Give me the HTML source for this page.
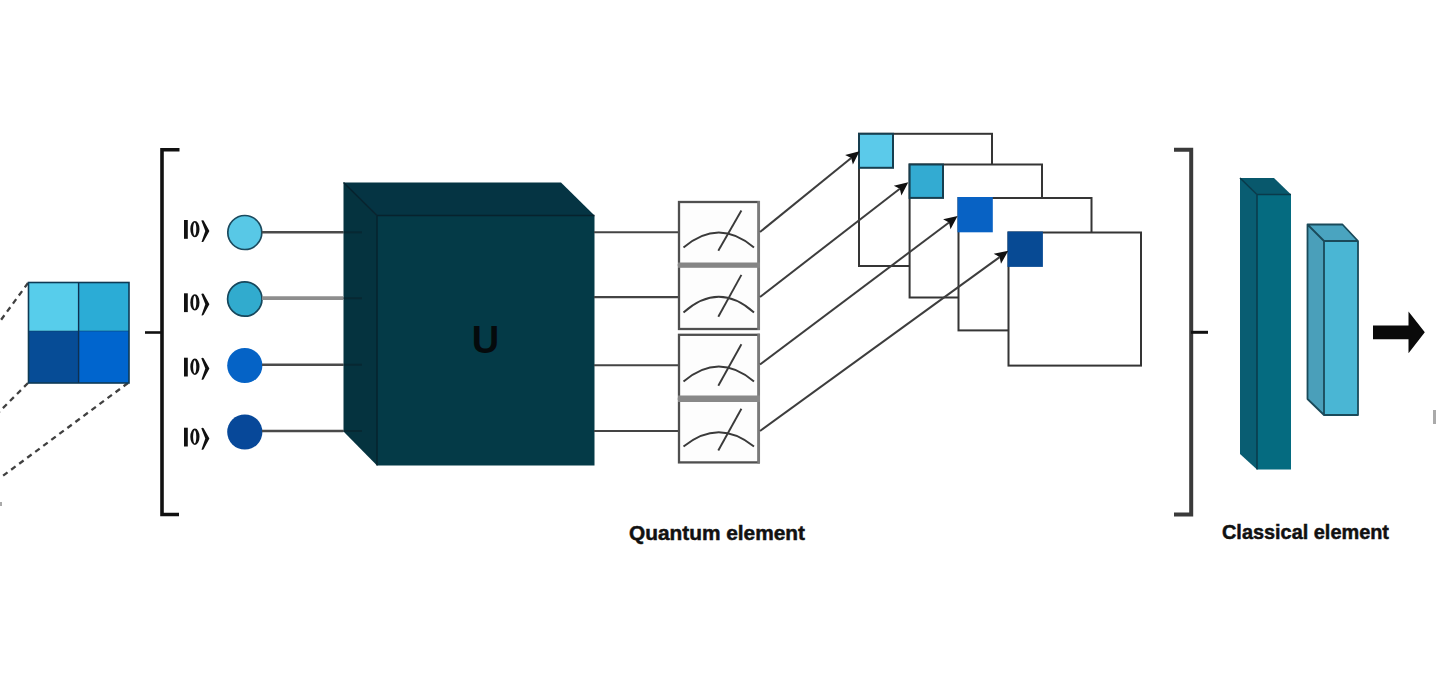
<!DOCTYPE html>
<html><head><meta charset="utf-8"><style>
html,body{margin:0;padding:0;background:#fff;}
body{width:1436px;height:700px;overflow:hidden;font-family:"Liberation Sans",sans-serif;}
svg{display:block;}
</style></head><body>
<svg width="1436" height="700" viewBox="0 0 1436 700">
<rect width="1436" height="700" fill="#fff"/>
<g stroke="#404040" stroke-width="2.3" stroke-dasharray="5.5 4.5" fill="none">
<line x1="28" y1="283" x2="-2" y2="324"/>
<line x1="28" y1="383" x2="-2" y2="413"/>
<line x1="128" y1="383" x2="2" y2="476.5"/>
</g>
<rect x="0" y="502" width="2" height="4" fill="#aaa"/>
<rect x="28.5" y="282.5" width="50.099999999999994" height="48.5" fill="#57CDEB"/>
<rect x="78.6" y="282.5" width="50.400000000000006" height="48.5" fill="#2BACD6"/>
<rect x="28.5" y="331" width="50.099999999999994" height="52" fill="#064C96"/>
<rect x="78.6" y="331" width="50.400000000000006" height="52" fill="#0065CE"/>
<rect x="28.5" y="282.5" width="100.5" height="100.5" fill="none" stroke="#0E3A55" stroke-width="1.6"/>
<line x1="78.6" y1="282.5" x2="78.6" y2="383" stroke="#0E3050" stroke-width="1.4"/>
<line x1="28.5" y1="331" x2="129" y2="331" stroke="#0E3A55" stroke-width="0.8" opacity="0.6"/>
<path d="M179.5,149.8 H162 V514.5 H179" fill="none" stroke="#111" stroke-width="3.6"/>
<line x1="145" y1="332.5" x2="162" y2="332.5" stroke="#111" stroke-width="2.6"/>
<path d="M1174,149.8 H1191.2 V514.5 H1174" fill="none" stroke="#3a3a3a" stroke-width="4"/>
<line x1="1191" y1="332.3" x2="1208" y2="332.3" stroke="#111" stroke-width="3"/>
<circle cx="244.8" cy="232.5" r="17" fill="#58C8E6" stroke="#1B4A5E" stroke-width="1.7"/>
<circle cx="244.8" cy="299" r="17.2" fill="#31ABCE" stroke="#17475C" stroke-width="1.7"/>
<circle cx="244.8" cy="365.5" r="17.6" fill="#0563C6" stroke="#0563C6" stroke-width="0"/>
<circle cx="244.8" cy="432" r="17.6" fill="#074899" stroke="#074899" stroke-width="0"/>
<rect x="184" y="220" width="3.8" height="18.8" fill="#111"/>
<path fill-rule="evenodd" fill="#111" d="M194.9,220.9 A4.6,8.2 0 1,0 194.9,237.3 A4.6,8.2 0 1,0 194.9,220.9 Z M194.7,222.5 A1.6,6.6 0 1,1 194.7,235.7 A1.6,6.6 0 1,1 194.7,222.5 Z"/>
<path d="M201.3,220.6 Q202.5,219.8 203.6,220.5 L209.4,230.9 L203.6,241.5 Q202.5,242.4 201.5,241.9 L205.3,230.9 Z" fill="#111"/>
<rect x="184" y="293.3" width="3.8" height="18.8" fill="#111"/>
<path fill-rule="evenodd" fill="#111" d="M194.9,294.2 A4.6,8.2 0 1,0 194.9,310.6 A4.6,8.2 0 1,0 194.9,294.2 Z M194.7,295.8 A1.6,6.6 0 1,1 194.7,309.0 A1.6,6.6 0 1,1 194.7,295.8 Z"/>
<path d="M201.3,293.90000000000003 Q202.5,293.1 203.6,293.8 L209.4,304.2 L203.6,314.8 Q202.5,315.7 201.5,315.2 L205.3,304.2 Z" fill="#111"/>
<rect x="184" y="357.7" width="3.8" height="18.8" fill="#111"/>
<path fill-rule="evenodd" fill="#111" d="M194.9,358.59999999999997 A4.6,8.2 0 1,0 194.9,375.0 A4.6,8.2 0 1,0 194.9,358.59999999999997 Z M194.7,360.2 A1.6,6.6 0 1,1 194.7,373.4 A1.6,6.6 0 1,1 194.7,360.2 Z"/>
<path d="M201.3,358.3 Q202.5,357.5 203.6,358.2 L209.4,368.59999999999997 L203.6,379.2 Q202.5,380.09999999999997 201.5,379.59999999999997 L205.3,368.59999999999997 Z" fill="#111"/>
<rect x="184" y="427.7" width="3.8" height="18.8" fill="#111"/>
<path fill-rule="evenodd" fill="#111" d="M194.9,428.59999999999997 A4.6,8.2 0 1,0 194.9,445.0 A4.6,8.2 0 1,0 194.9,428.59999999999997 Z M194.7,430.2 A1.6,6.6 0 1,1 194.7,443.4 A1.6,6.6 0 1,1 194.7,430.2 Z"/>
<path d="M201.3,428.3 Q202.5,427.5 203.6,428.2 L209.4,438.59999999999997 L203.6,449.2 Q202.5,450.09999999999997 201.5,449.59999999999997 L205.3,438.59999999999997 Z" fill="#111"/>
<polygon points="343.5,182.5 561,182.5 594.5,215.5 377,215.5" fill="#053443"/>
<polygon points="343.5,182.5 377,215.5 377,465.5 343.5,431.5" fill="#05333F"/>
<rect x="377" y="215.5" width="217.5" height="250" fill="#043A47"/>
<g stroke="#07222D" stroke-width="1.4" fill="none"><path d="M343.5,182.5 L377,215.5 L594.5,215.5 M377,215.5 V465.5"/></g>
<line x1="262" y1="232.3" x2="343.5" y2="232.3" stroke="#4a4a4a" stroke-width="2.4"/>
<line x1="262" y1="298.2" x2="343.5" y2="298.2" stroke="#8e8e8e" stroke-width="3.8"/>
<line x1="262" y1="364.8" x2="343.5" y2="364.8" stroke="#4a4a4a" stroke-width="2.4"/>
<line x1="262" y1="431" x2="343.5" y2="431" stroke="#4a4a4a" stroke-width="2.4"/>
<line x1="343.5" y1="232.3" x2="362" y2="232.3" stroke="#082630" stroke-width="2" opacity="0.8"/>
<line x1="343.5" y1="298.2" x2="362" y2="298.2" stroke="#082630" stroke-width="2" opacity="0.8"/>
<line x1="343.5" y1="364.8" x2="362" y2="364.8" stroke="#082630" stroke-width="2" opacity="0.8"/>
<line x1="343.5" y1="431" x2="362" y2="431" stroke="#082630" stroke-width="2" opacity="0.8"/>
<text x="485.6" y="353" font-family="Liberation Sans" font-weight="bold" font-size="38" text-anchor="middle" fill="#050a0c">U</text>
<line x1="594" y1="232.2" x2="679" y2="232.2" stroke="#444" stroke-width="2.1"/>
<line x1="594" y1="297.1" x2="679" y2="297.1" stroke="#444" stroke-width="2.1"/>
<line x1="594" y1="365.2" x2="679" y2="365.2" stroke="#444" stroke-width="2.1"/>
<line x1="594" y1="431" x2="679" y2="431" stroke="#444" stroke-width="2.1"/>
<rect x="679" y="202" width="79.7" height="63.10000000000002" fill="#fdfdfd" stroke="#4f4f4f" stroke-width="2.3"/>
<rect x="679" y="265.1" width="79.7" height="63.89999999999998" fill="#fdfdfd" stroke="#4f4f4f" stroke-width="2.3"/>
<rect x="679" y="334.8" width="79.7" height="64.0" fill="#fdfdfd" stroke="#4f4f4f" stroke-width="2.3"/>
<rect x="679" y="398.8" width="79.7" height="63.599999999999966" fill="#fdfdfd" stroke="#4f4f4f" stroke-width="2.3"/>
<line x1="758.7" y1="201" x2="758.7" y2="330" stroke="#7a7a7a" stroke-width="2.7"/>
<line x1="758.7" y1="333.7" x2="758.7" y2="463.5" stroke="#7a7a7a" stroke-width="2.7"/>
<rect x="678" y="262.5" width="82" height="5.3" fill="#858585"/>
<rect x="678" y="395.5" width="82" height="6.5" fill="#888"/>
<path d="M683.5,247.5 Q718.8,217.5 754,247.5" fill="none" stroke="#3a3a3a" stroke-width="1.9"/>
<line x1="718.3" y1="250.7" x2="741.4" y2="210.5" stroke="#3a3a3a" stroke-width="1.9"/>
<path d="M683.5,312.5 Q718.8,281.1 754,312.5" fill="none" stroke="#3a3a3a" stroke-width="1.9"/>
<line x1="718.3" y1="316.7" x2="741.4" y2="274.9" stroke="#3a3a3a" stroke-width="1.9"/>
<path d="M683.5,381.5 Q718.8,351.5 754,381.5" fill="none" stroke="#3a3a3a" stroke-width="1.9"/>
<line x1="718.3" y1="385.7" x2="741.4" y2="344.3" stroke="#3a3a3a" stroke-width="1.9"/>
<path d="M683.5,446.6 Q718.8,418.0 754,446.6" fill="none" stroke="#3a3a3a" stroke-width="1.9"/>
<line x1="718.3" y1="450.5" x2="741.4" y2="408.7" stroke="#3a3a3a" stroke-width="1.9"/>
<rect x="859" y="133.8" width="133" height="132.2" fill="#fff" stroke="#353535" stroke-width="2"/>
<rect x="859" y="133.8" width="34" height="34" fill="#5BCAEA" stroke="#163E4F" stroke-width="2"/>
<rect x="909.6" y="164.5" width="132.39999999999998" height="133.0" fill="#fff" stroke="#353535" stroke-width="2"/>
<rect x="909.6" y="164.5" width="33.39999999999998" height="33.39999999999998" fill="#33ABD2" stroke="#163E4F" stroke-width="2"/>
<rect x="958.5" y="198" width="133.0" height="132.39999999999998" fill="#fff" stroke="#353535" stroke-width="2"/>
<rect x="957.5" y="197" width="35.299999999999955" height="35.299999999999955" fill="#0862C4"/>
<rect x="1008.5" y="232.5" width="132.5" height="133.10000000000002" fill="#fff" stroke="#353535" stroke-width="2"/>
<rect x="1007.5" y="231.5" width="35.40000000000009" height="35.40000000000009" fill="#074A94"/>
<line x1="760" y1="232" x2="851.2" y2="158.0" stroke="#3d3d3d" stroke-width="2"/>
<polygon points="859.5,151.3 852.9,164.6 851.2,158.0 845.1,155.0" fill="#111"/>
<line x1="760" y1="297" x2="899.8" y2="188.8" stroke="#3d3d3d" stroke-width="2"/>
<polygon points="908.3,182.3 901.4,195.5 899.8,188.8 893.8,185.7" fill="#111"/>
<line x1="760" y1="364.5" x2="949.0" y2="222.5" stroke="#3d3d3d" stroke-width="2"/>
<polygon points="957.6,216.1 950.5,229.2 949.0,222.5 943.1,219.2" fill="#111"/>
<line x1="760" y1="431" x2="999.6" y2="257.1" stroke="#3d3d3d" stroke-width="2"/>
<polygon points="1008.3,250.8 1001.0,263.7 999.6,257.1 993.7,253.7" fill="#111"/>
<polygon points="1240,178 1274,178 1291,194.5 1257,194.5" fill="#08586C"/>
<polygon points="1240,178 1257,194.5 1257,469.5 1240,454" fill="#095D72"/>
<rect x="1257" y="194.5" width="34" height="275" fill="#056B80"/>
<path d="M1240,178 L1257,194.5 H1291 M1257,194.5 V469.5" fill="none" stroke="#0A3A4A" stroke-width="1.5"/>
<polygon points="1307.5,224.5 1342.5,224.5 1358,241 1324,241" fill="#4AA4C0"/>
<polygon points="1307.5,224.5 1324,241 1324,415 1307.5,399" fill="#4A9FBA"/>
<rect x="1324" y="241" width="34" height="174" fill="#4AB6D4"/>
<path d="M1307.5,224.5 H1342.5 L1358,241 V415 H1324 L1307.5,399 Z M1307.5,224.5 L1324,241 H1358 M1324,241 V415" fill="none" stroke="#1A4A5A" stroke-width="1.8" stroke-linejoin="round"/>
<polygon points="1373,325.4 1408.5,325.4 1408.5,311.4 1424.8,332.3 1408.5,353.2 1408.5,339.3 1373,339.3" fill="#0a0a0a"/>
<rect x="1433" y="410" width="3" height="14" fill="#aaa"/>
<text x="629" y="539.5" font-family="Liberation Sans" font-weight="bold" font-size="21" fill="#111" stroke="#111" stroke-width="0.5" textLength="176" lengthAdjust="spacingAndGlyphs">Quantum element</text>
<text x="1222" y="539.1" font-family="Liberation Sans" font-weight="bold" font-size="21" fill="#111" stroke="#111" stroke-width="0.5" textLength="167" lengthAdjust="spacingAndGlyphs">Classical element</text>
</svg>
</body></html>
